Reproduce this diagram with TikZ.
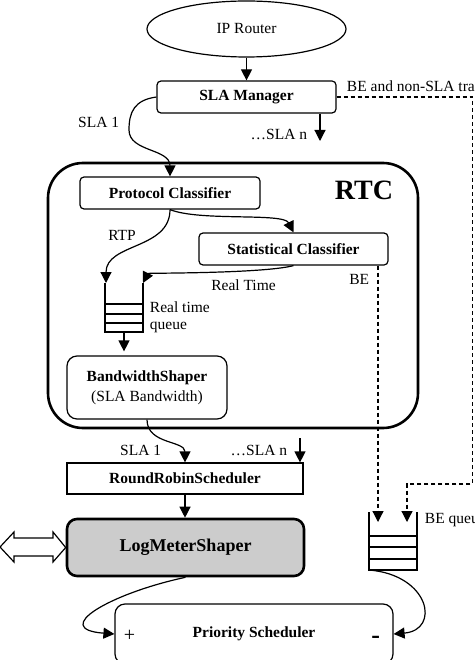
\documentclass[tikz,border=0pt]{standalone}
\usepackage{fontspec}
\setmainfont{Liberation Serif}
\usetikzlibrary{shapes.geometric,arrows.meta}
\definecolor{lmsgray}{RGB}{204,204,204}

\begin{document}
\begin{tikzpicture}[x=1pt,y=-1pt,line width=1.2pt,
		font=\fontsize{15.5}{18}\selectfont,
		block/.style={draw,rounded corners=4pt,inner sep=0pt,font=\fontsize{15.5}{20}\selectfont\bfseries},
		arr/.style={-{Triangle[length=11pt,width=11pt]}},
		bedash/.style={dash pattern=on 4pt off 3pt}]
	\useasboundingbox (0,0) rectangle (474,660);
	
	\node[draw,ellipse,inner sep=0pt,minimum width=199pt,minimum height=56pt] (router) at (246.5,29) {IP Router};
	\node[block,minimum width=179pt,minimum height=32pt] (slam) at (246.5,97) {SLA Manager};
	
	\node[draw,rounded corners=35pt,line width=2.6pt,minimum width=370pt,minimum height=265pt] (rtc) at (233,295.5) {};
	\node[anchor=base east,font=\fontsize{28}{30}\selectfont\bfseries] (rtclab) at (397,200) {RTC};
	
	\node[block,minimum width=180pt,minimum height=32pt] (pc) at (170,193) {Protocol Classifier};
	\node[block,minimum width=189pt,minimum height=32pt] (sc) at (293.5,249) {Statistical Classifier};
	\node[block,rounded corners=10pt,align=center,minimum width=160pt,minimum height=63pt] (bs) at (147,387.5) {BandwidthShaper\\\mdseries(SLA Bandwidth)};
	\node[block,sharp corners,minimum width=236pt,minimum height=31pt] (rr) at (185,478.5) {RoundRobinScheduler};
	\node[block,rounded corners=10pt,fill=lmsgray,line width=2.6pt,minimum width=237pt,minimum height=57pt,font=\fontsize{18}{20}\selectfont\bfseries] (lms) at (185.5,547.5) {LogMeterShaper};
	\node[block,rounded corners=10pt,minimum width=278pt,minimum height=60pt] (ps) at (254,634) {Priority Scheduler};
	\node[anchor=base west,font=\fontsize{20}{20}\selectfont] (plus) at (120,641) {+};
	\node[anchor=base east,font=\fontsize{26}{26}\selectfont\bfseries] (minus) at (384,643) {-};
	
	% real time queue
	\draw (105,283) -- (105,332) -- (143,332) -- (143,283);
	\foreach \y in {304,314,323}
		\draw (105,\y) -- (143,\y);
	\coordinate (rtql) at (106,283);
	\coordinate (rtqr) at (143,283);
	\coordinate (rtqb) at (124,332);
	\node[anchor=base west] (rtqlab) at (146,312) {Real time};
	\node[anchor=base west] (rtqlab2) at (146,329) {queue};
	
	% BE queue
	\draw (369,512) -- (369,570) -- (417,570) -- (417,512);
	\foreach \y in {536,547,559}
		\draw (369,\y) -- (417,\y);
	\coordinate (beql) at (378,522);
	\coordinate (beqr) at (407,522);
	\coordinate (beqb) at (369,570);
	\node[anchor=base west] (beqlab) at (421,523) {BE queue};
	
	\draw[arr] (router) -- (slam);
	\coordinate (slan) at (320,141);
	\draw[arr] (slam.south -| slan) -- (slan);
	\node[anchor=base east] (slanlab) at (311,140) {\ldots SLA n};
	\coordinate (sla1bend) at (129,130);
	\draw[arr] (slam.west) .. controls +(-22,3) and +(0,-18) .. (sla1bend) .. controls +(0,22) and +(0,-28) .. (pc.north);
	\node[anchor=base east] (sla1lab) at (123,128) {SLA 1};
	\draw[bedash,arr] (slam.east) -| (472.5,484) -| (beqr);
	\node[anchor=base west] (belab) at (343,92) {BE and non-SLA traffic};
	
	\draw[arr] (pc.south) .. controls +(0,40) and +(0,-40) .. (rtql);
	\node[anchor=base] (rtplab) at (122,240) {RTP};
	\draw[arr] (pc.south) .. controls +(30,12) and +(-10,-20) .. (sc.north);
	\draw[arr] (sc.south) .. controls +(-30,8) and +(5,-10) .. (rtqr);
	\node[anchor=base] (rtlab) at (243.5,290) {Real Time};
	\draw[bedash,arr] (sc.south east -| beql) -- (beql);
	\node[anchor=base east] (be) at (373,284) {BE};
	
	\draw[arr,shorten >=4pt] (rtqb) -- (bs.north -| rtqb);
	\draw[arr] (bs.south) .. controls +(0,25) and +(0,-22) .. (rr.north);
	\node[anchor=base east] (sla1lab2) at (165,455) {SLA 1};
	\coordinate (rrn) at (300,438);
	\draw[arr] (rrn) -- (rrn |- rr.north);
	\node[anchor=base east] (rrnlab) at (291,455) {\ldots SLA n};
	\draw[arr] (rr.south) -- (rr.south |- lms.north);
	
	\draw[fill=white] (lms.west) -- (53,532) -- (53,538) -- (14,538) -- (14,532) -- (0,547) -- (14,562) -- (14,556) -- (53,556) -- (53,562) -- cycle;
	\draw[arr] (lms.south) .. controls +(-75,16) and +(-65,-5) .. (ps.west);
	\draw[arr] (beqb) .. controls +(61,5) and +(47,-4) .. (ps.east);
\end{tikzpicture}
\end{document}
